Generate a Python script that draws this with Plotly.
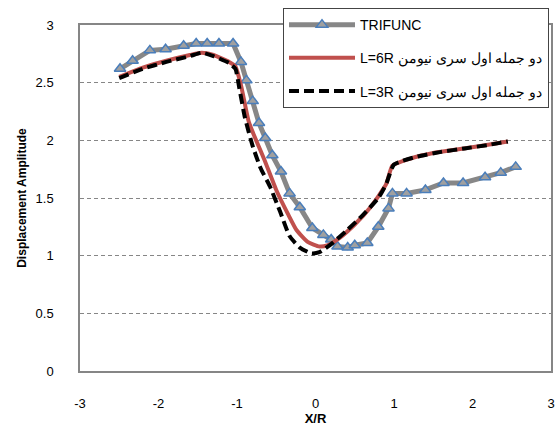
import plotly.graph_objects as go

# TRIFUNC
tri_x = [-2.49, -2.33, -2.11, -1.91, -1.68, -1.52, -1.38, -1.23, -1.05, -0.95, -0.88, -0.80,
         -0.72, -0.64, -0.55, -0.44, -0.33, -0.20, -0.04, 0.10, 0.20, 0.28, 0.41, 0.50, 0.66,
         0.80, 0.93, 0.98, 1.16, 1.40, 1.63, 1.88, 2.16, 2.36, 2.55]
tri_y = [2.62, 2.69, 2.78, 2.79, 2.82, 2.84, 2.84, 2.84, 2.84, 2.68, 2.52, 2.34,
         2.15, 2.02, 1.87, 1.73, 1.54, 1.42, 1.24, 1.18, 1.14, 1.08, 1.07, 1.09, 1.11,
         1.25, 1.41, 1.54, 1.54, 1.57, 1.63, 1.63, 1.68, 1.72, 1.77]

# L=6R
l6_x = [-2.5, -2.2, -1.9, -1.6, -1.45, -1.3, -1.1, -1.02, -0.95, -0.85, -0.75, -0.65, -0.5,
        -0.35, -0.24, -0.1, 0.05, 0.15, 0.3, 0.5, 0.7, 0.9, 0.98, 1.2, 1.5, 1.8, 2.1, 2.45]
l6_y = [2.55, 2.63, 2.69, 2.74, 2.76, 2.74, 2.68, 2.64, 2.48, 2.16, 1.99, 1.83, 1.57,
        1.36, 1.22, 1.12, 1.08, 1.09, 1.15, 1.27, 1.42, 1.62, 1.78, 1.84, 1.89, 1.92, 1.95, 1.99]

# L=3R
l3_x = [-2.5, -2.2, -1.9, -1.6, -1.45, -1.3, -1.1, -1.02, -0.97, -0.9, -0.8, -0.7, -0.58,
        -0.45, -0.33, -0.2, -0.05, 0.05, 0.2, 0.4, 0.6, 0.8, 0.9, 1.0, 1.3, 1.6, 1.9, 2.2, 2.45]
l3_y = [2.54, 2.62, 2.68, 2.73, 2.76, 2.73, 2.67, 2.62, 2.45, 2.2, 1.95, 1.76, 1.6,
        1.38, 1.17, 1.07, 1.02, 1.03, 1.1, 1.22, 1.35, 1.5, 1.62, 1.79, 1.86, 1.9, 1.93, 1.96, 1.99]

names = ["TRIFUNC", "L=6R دو جمله اول سری نیومن", "L=3R دو جمله اول سری نیومن"]

x_ticks = [-3, -2, -1, 0, 1, 2, 3]
x_ticktext = ["-3", "-2", "-1", "0", "1", "2", "3"]

fig = go.Figure()
fig.add_trace(go.Scatter(x=tri_x, y=tri_y, name=names[0], mode="lines+markers",
                         line=dict(color="#878787", width=5),
                         marker=dict(symbol="triangle-up", size=10, color="#a0a0a0",
                                     line=dict(color="#4a7ebb", width=1.5)),
                         legendgroup="a"))
fig.add_trace(go.Scatter(x=l6_x, y=l6_y, name=names[1], mode="lines",
                         line=dict(color="#c0504d", width=4, shape="spline", smoothing=0.5),
                         legendgroup="b"))
fig.add_trace(go.Scatter(x=l3_x, y=l3_y, name=names[2], mode="lines",
                         line=dict(color="#000000", width=4, dash="10px,5px", shape="spline", smoothing=0.5),
                         legendgroup="c"))

font = "Liberation Sans"
fig.update_layout(
    width=557, height=427,
    margin=dict(l=80, r=6, t=25, b=56, autoexpand=False),
    paper_bgcolor="white", plot_bgcolor="white",
    font=dict(family=font, size=13, color="#000"),
    showlegend=True,
    legend=dict(x=0.431, y=1.049, xanchor="left", yanchor="top",
                bgcolor="white", bordercolor="#444", borderwidth=1,
                font=dict(size=14), tracegroupgap=12, itemwidth=66,
                traceorder="grouped"),
    xaxis=dict(range=[-3, 3], tickvals=x_ticks, ticktext=x_ticktext,
               showgrid=False, zeroline=False,
               showline=True, linecolor="#868686", linewidth=1.5, mirror=True,
               ticks="outside", ticklen=20, tickcolor="rgba(0,0,0,0)",
               title=dict(text="<b>X/R</b>", standoff=4, font=dict(size=13))),
    yaxis=dict(range=[0, 3], dtick=0.5, showgrid=True, gridcolor="#868686",
               griddash="4px,3px", gridwidth=1, zeroline=False,
               showline=True, linecolor="#868686", linewidth=1.5, mirror=True,
               ticks="outside", ticklen=22, tickcolor="rgba(0,0,0,0)",
               title=dict(text="<b>Displacement Amplitude</b>", standoff=6, font=dict(size=12))),
)
fig.write_html("out.html")
